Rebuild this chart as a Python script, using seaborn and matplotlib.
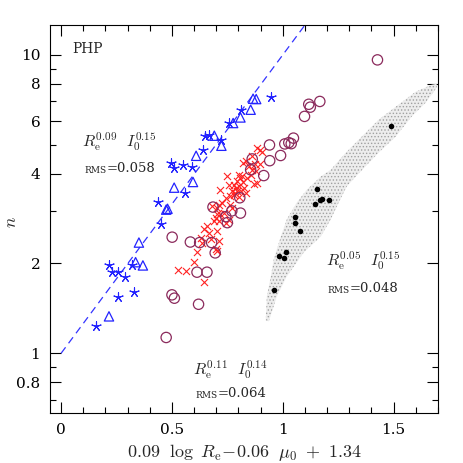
import matplotlib
matplotlib.use("Agg")
import matplotlib.pyplot as plt
import seaborn as sns
from matplotlib.ticker import MultipleLocator, NullFormatter

# blue stars
star_x = [0.947, 0.812, 0.759, 0.649, 0.667, 0.722, 0.640, 0.495, 0.510, 0.548, 0.589,
          0.561, 0.438, 0.450, 0.216, 0.228, 0.258, 0.287, 0.321, 0.258, 0.329, 0.159]
star_n = [7.20, 6.55, 5.89, 5.33, 5.38, 5.20, 4.79, 4.35, 4.18, 4.27, 4.21,
          3.45, 3.22, 2.72, 1.97, 1.87, 1.87, 1.80, 1.97, 1.54, 1.60, 1.23]

# blue triangles
tri_x = [0.866, 0.880, 0.855, 0.809, 0.776, 0.691, 0.723, 0.609, 0.595, 0.510,
         0.474, 0.480, 0.351, 0.336, 0.369, 0.216]
tri_n = [7.13, 7.11, 6.55, 6.17, 5.91, 5.36, 4.96, 4.59, 3.75, 3.59,
         3.03, 3.05, 2.35, 2.02, 1.97, 1.33]

# red crosses
cross_x = [0.883, 0.896, 0.905, 0.873, 0.896, 0.836, 0.847, 0.862, 0.855, 0.877, 0.884,
           0.869, 0.749, 0.802, 0.809, 0.794, 0.779, 0.787, 0.772, 0.794, 0.779, 0.764,
           0.824, 0.832, 0.719, 0.742, 0.764, 0.772, 0.727, 0.704, 0.719, 0.697, 0.689,
           0.712, 0.817, 0.802, 0.812, 0.712, 0.682, 0.734, 0.704, 0.742, 0.757, 0.659,
           0.644, 0.667, 0.704, 0.629, 0.674, 0.712, 0.636, 0.697, 0.704, 0.614, 0.599,
           0.528, 0.562, 0.644, 0.784, 0.802, 0.820, 0.757, 0.838, 0.821, 0.862]
cross_n = [4.89, 4.81, 4.74, 4.31, 4.31, 4.42, 4.23, 4.12, 3.97, 4.07, 3.72,
           3.70, 3.92, 3.97, 3.87, 3.77, 3.67, 3.58, 3.49, 3.49, 3.40, 3.36,
           3.58, 3.45, 3.53, 3.32, 3.15, 3.07, 3.19, 3.07, 2.92, 2.84, 2.77,
           2.77, 3.92, 3.63, 3.49, 3.15, 3.11, 2.96, 2.92, 2.74, 2.80, 2.67,
           2.60, 2.53, 2.56, 2.44, 2.41, 2.37, 2.35, 2.24, 2.20, 2.19, 2.03,
           1.90, 1.89, 1.74, 3.45, 3.35, 3.76, 3.65, 3.88, 4.34, 4.57]

# open circles
circ_x = [1.427, 1.117, 1.124, 1.167, 1.098, 1.048, 1.027, 1.009, 1.038, 0.940, 0.990,
          0.941, 0.862, 0.855, 0.914, 0.806, 0.685, 0.770, 0.809, 0.750, 0.743, 0.501,
          0.583, 0.625, 0.679, 0.695, 0.613, 0.658, 0.500, 0.511, 0.620, 0.474]
circ_n = [9.62, 6.83, 6.68, 6.98, 6.22, 5.26, 5.08, 5.03, 5.04, 4.99, 4.60,
          4.42, 4.48, 4.12, 3.94, 3.32, 3.09, 3.00, 2.95, 2.74, 2.87, 2.45,
          2.36, 2.35, 2.35, 2.17, 1.87, 1.87, 1.57, 1.53, 1.46, 1.13]

# black dots
dot_x = [1.490, 1.156, 1.170, 1.177, 1.207, 1.147, 1.053, 1.057, 1.077, 1.015, 0.982, 1.006, 0.961]
dot_n = [5.78, 3.55, 3.26, 3.29, 3.26, 3.17, 2.87, 2.74, 2.56, 2.19, 2.12, 2.09, 1.63]

# outline of the grey model cloud
cloud_x = [0.923, 0.928, 0.946, 0.959, 0.991, 1.018, 1.063, 1.108, 1.171, 1.216, 1.284,
           1.356, 1.432, 1.509, 1.599, 1.671, 1.694,
           1.694, 1.644, 1.581, 1.509, 1.432, 1.329, 1.288, 1.252, 1.216, 1.171, 1.095,
           1.018, 0.973, 0.937]
cloud_n = [1.29, 1.55, 1.81, 2.06, 2.46, 2.81, 3.20, 3.53, 3.91, 4.12, 4.70,
           5.32, 6.06, 6.70, 7.52, 7.94, 8.00,
           7.76, 6.91, 6.21, 5.32, 4.70, 3.91, 3.62, 3.20, 2.81, 2.46, 2.18,
           1.81, 1.55, 1.28]

# one-to-one line
line_x = [0.0, 1.1]
line_n = [1.0, 12.59]

sns.set_style("ticks")
plt.rcParams['font.family'] = ['DejaVu Serif']
plt.rcParams['mathtext.fontset'] = 'cm'
plt.rcParams['hatch.linewidth'] = 0.6

fig = plt.figure(figsize=(4.63, 4.63), dpi=100)
ax = fig.add_axes([0.108, 0.108, 0.838, 0.838])

ax.fill(cloud_x, cloud_n, facecolor='#ededed', edgecolor='#a0a0a0', hatch='.....',
        linewidth=0, zorder=1)
ax.plot(line_x, line_n, color='#3333ff', lw=0.9, dashes=(6, 4), zorder=2)

sns.scatterplot(x=star_x, y=star_n, marker=(5, 2, 0), color='#2222ff', s=45,
                linewidth=0.8, ax=ax, zorder=3)
sns.scatterplot(x=tri_x, y=tri_n, marker='^', facecolor='none', edgecolor='#2222ff', s=45,
                linewidth=0.9, ax=ax, zorder=3)
sns.scatterplot(x=cross_x, y=cross_n, marker='x', color='#ff2222', s=26,
                linewidth=0.8, ax=ax, zorder=4)
sns.scatterplot(x=circ_x, y=circ_n, marker='o', facecolor='none', edgecolor='#8b2a5c', s=55,
                linewidth=0.9, ax=ax, zorder=4)
sns.scatterplot(x=dot_x, y=dot_n, marker='o', color='black', edgecolor='black', s=16,
                linewidth=0, ax=ax, zorder=5)

ax.set_yscale('log')
ax.set_xlim(-0.05, 1.7)
ax.set_ylim(0.631, 12.59)

ax.set_yticks([0.8, 1, 2, 4, 6, 8, 10])
ax.set_yticklabels(['0.8', '1', '2', '4', '6', '8', '10'])
ax.set_yticks([0.7, 0.9, 3, 5, 7, 9], minor=True)
ax.yaxis.set_minor_formatter(NullFormatter())
ax.set_xticks([0, 0.5, 1, 1.5])
ax.set_xticklabels(['0', '0.5', '1', '1.5'])
ax.xaxis.set_minor_locator(MultipleLocator(0.1))

ax.tick_params(which='both', direction='in', top=True, right=True, width=0.8, colors='black')
ax.tick_params(which='major', length=8, labelsize=11, pad=7)
ax.tick_params(which='minor', length=4)
for sp in ax.spines.values():
    sp.set_linewidth(0.8)
    sp.set_color('black')

ax.set_xlabel(r'$0.09\ \ \log\ R_{\rm e}\!-\!0.06\ \ \mu_0\ +\ 1.34$', fontsize=13, labelpad=4)
ax.set_ylabel('')
ax.text(-0.098, 0.492, r'$n$', transform=ax.transAxes, fontsize=12.5, rotation=90,
        ha='center', va='center')

ax.text(0.057, 0.938, 'PHP', transform=ax.transAxes, fontsize=10, va='center', ha='left')

formulas = [
    (0.082, 0.700, r'$R_{\rm e}^{0.09}\ \ I_0^{0.15}$', 0.088, 0.626, '=0.058'),
    (0.369, 0.111, r'$R_{\rm e}^{0.11}\ \ I_0^{0.14}$', 0.374, 0.046, '=0.064'),
    (0.711, 0.392, r'$R_{\rm e}^{0.05}\ \ I_0^{0.15}$', 0.716, 0.317, '=0.048'),
]
for fx, fy, ftxt, rx, ry, rtxt in formulas:
    ax.text(fx, fy, ftxt, transform=ax.transAxes, fontsize=11.5, va='center', ha='left')
    rms = ax.text(rx, ry, 'RMS', transform=ax.transAxes, fontsize=6.5, va='center', ha='left')
    ax.annotate(rtxt, xy=(1, 0), xycoords=rms, fontsize=9.5, va='bottom', ha='left')

fig.savefig('out.png', dpi=100)
